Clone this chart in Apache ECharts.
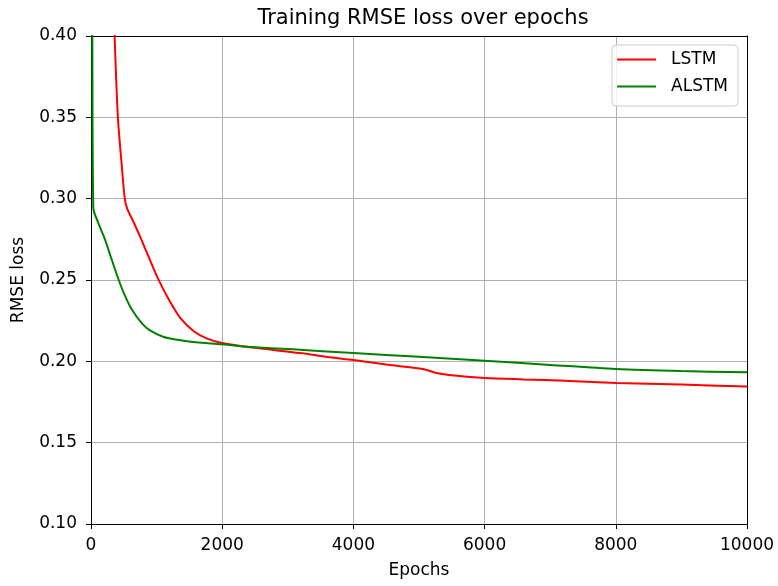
<!DOCTYPE html>
<html>
<head>
<meta charset="utf-8">
<script src="https://cdn.jsdelivr.net/npm/echarts@6/dist/echarts.min.js"></script>
<style>
html,body{margin:0;padding:0;background:#fff;}
#chart{width:778px;height:586px;}
</style>
</head>
<body>
<div id="chart"></div>
<script>
const chartTitle = 'Training RMSE loss over epochs';
const xAxisName = 'Epochs';
const yAxisName = 'RMSE loss';
const seriesNames = ['LSTM', 'ALSTM'];

const lstmEpochs = [0, 150, 300, 360, 410, 470, 515, 550, 650, 750, 860, 1020, 1200, 1363, 1567, 1771, 2000, 2432, 3184, 3640, 4000, 4500, 5060, 5250, 5460, 6000, 6600, 7240, 8000, 9000, 10000];
const lstmLoss   = [1.0, 0.70, 0.48, 0.40, 0.35, 0.32, 0.30, 0.294, 0.2855, 0.2765, 0.266, 0.251, 0.237, 0.2265, 0.2185, 0.2140, 0.2113, 0.2086, 0.2051, 0.2025, 0.2008, 0.198, 0.1953, 0.193, 0.1916, 0.1898, 0.1889, 0.1881, 0.1867, 0.1857, 0.1845];

const alstmEpochs = [0, 20, 35, 111, 213, 315, 417, 519, 620, 773, 900, 1108, 1363, 1600, 2000, 2432, 3184, 4000, 5000, 6000, 7000, 8000, 9000, 10000];
const alstmLoss   = [0.60, 0.40, 0.2945, 0.2851, 0.2749, 0.2626, 0.2506, 0.2402, 0.2320, 0.2235, 0.2190, 0.2150, 0.2130, 0.2117, 0.2105, 0.2088, 0.2071, 0.2051, 0.2028, 0.2004, 0.1978, 0.1953, 0.1940, 0.1933];

const xTicks = [0, 2000, 4000, 6000, 8000, 10000];
const yTicks = [0.10, 0.15, 0.20, 0.25, 0.30, 0.35, 0.40];

const pair = (xs, ys) => xs.map((x, i) => [x, ys[i]]);

const font = 'DejaVu Sans';
const xMin = xTicks[0], xMax = xTicks[xTicks.length - 1];
const yMin = yTicks[0], yMax = yTicks[yTicks.length - 1];
const chart = echarts.init(document.getElementById('chart'));
chart.setOption({
  animation: false,
  backgroundColor: '#fff',
  title: {
    text: chartTitle,
    left: 418, top: 3, textAlign: 'center',
    textStyle: { fontFamily: font, fontSize: 21, fontWeight: 'normal', color: '#000' }
  },
  legend: {
    orient: 'vertical',
    right: 40, top: 45,
    padding: [6, 10, 11, 4],
    itemWidth: 39, itemHeight: 17, itemGap: 10,
    itemStyle: { opacity: 0 },
    backgroundColor: 'rgba(255,255,255,0.8)',
    borderColor: '#cccccc', borderWidth: 1, borderRadius: 4,
    textStyle: { fontFamily: font, fontSize: 17, color: '#000', padding: [0, 0, 0, 10] },
    data: seriesNames
  },
  grid: {
    left: 91, top: 36, right: 31, bottom: 62
  },
  xAxis: [{
    type: 'value', min: xMin, max: xMax, interval: 2000,
    name: xAxisName, nameLocation: 'middle', nameGap: 38,
    nameTextStyle: { fontFamily: font, fontSize: 17, color: '#000' },
    axisLine: { show: true, lineStyle: { color: '#000', width: 1 } },
    axisTick: { show: true, length: 5, lineStyle: { color: '#000' } },
    axisLabel: { fontFamily: font, fontSize: 17, color: '#000', margin: 13,
      formatter: v => String(v), showMinLabel: true, showMaxLabel: true },
    splitLine: { show: true, lineStyle: { color: '#b0b0b0', width: 1 } }
  }, {
    type: 'value', min: xMin, max: xMax, position: 'top',
    axisLine: { show: true, onZero: false, lineStyle: { color: '#000', width: 1 } },
    axisTick: { show: false }, axisLabel: { show: false }, splitLine: { show: false }
  }],
  yAxis: [{
    type: 'value', min: yMin, max: yMax, interval: 0.05,
    name: yAxisName, nameLocation: 'middle', nameGap: 64, nameRotate: 90,
    nameTextStyle: { fontFamily: font, fontSize: 17, color: '#000' },
    axisLine: { show: true, lineStyle: { color: '#000', width: 1 } },
    axisTick: { show: true, length: 5, lineStyle: { color: '#000' } },
    axisLabel: { fontFamily: font, fontSize: 17, color: '#000', margin: 14,
      formatter: v => v.toFixed(2), showMinLabel: true, showMaxLabel: true },
    splitLine: { show: true, lineStyle: { color: '#b0b0b0', width: 1 } }
  }, {
    type: 'value', min: yMin, max: yMax, position: 'right',
    axisLine: { show: true, onZero: false, lineStyle: { color: '#000', width: 1 } },
    axisTick: { show: false }, axisLabel: { show: false }, splitLine: { show: false }
  }],
  series: [
    {
      name: seriesNames[0], type: 'line', data: pair(lstmEpochs, lstmLoss),
      xAxisIndex: 0, yAxisIndex: 0,
      symbol: 'none', smooth: 0.3, clip: true,
      lineStyle: { color: '#ff0000', width: 2 }, itemStyle: { color: '#ff0000' }
    },
    {
      name: seriesNames[1], type: 'line', data: pair(alstmEpochs, alstmLoss),
      xAxisIndex: 0, yAxisIndex: 0,
      symbol: 'none', smooth: 0.3, clip: true,
      lineStyle: { color: '#008000', width: 2 }, itemStyle: { color: '#008000' }
    }
  ]
});
</script>
</body>
</html>
